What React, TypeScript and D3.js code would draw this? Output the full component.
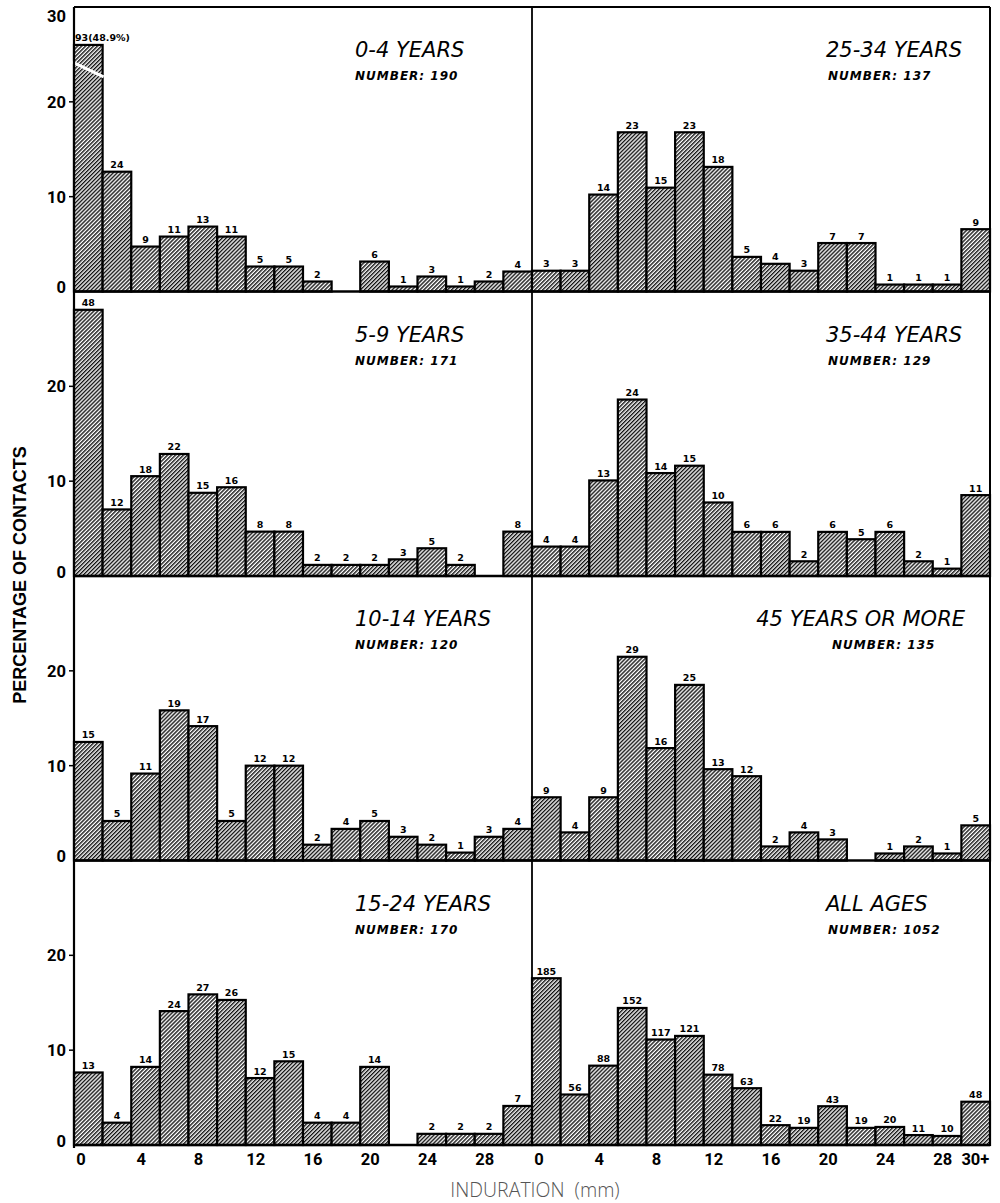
import React from "react";
import * as d3 from "d3";

// ---- DATA ----
const binStarts = [0, 2, 4, 6, 8, 10, 12, 14, 16, 18, 20, 22, 24, 26, 28, 30];
const leftTickValues = [0, 4, 8, 12, 16, 20, 24, 28];
const leftTickLabels = ["0", "4", "8", "12", "16", "20", "24", "28"];
const rightTickValues = [0, 4, 8, 12, 16, 20, 24, 28, 30];
const rightTickLabels = ["0", "4", "8", "12", "16", "20", "24", "28", "30+"];
const yTicksFirstRow = [0, 10, 20, 30];
const yTicksOtherRows = [0, 10, 20];

const panelTitles = [
  "0-4 YEARS",
  "5-9 YEARS",
  "10-14 YEARS",
  "15-24 YEARS",
  "25-34 YEARS",
  "35-44 YEARS",
  "45 YEARS OR MORE",
  "ALL AGES",
];
const panelNumbers = [190, 171, 120, 170, 137, 129, 135, 1052];

const counts0to4 = [93, 24, 9, 11, 13, 11, 5, 5, 2, 0, 6, 1, 3, 1, 2, 4];
const counts5to9 = [48, 12, 18, 22, 15, 16, 8, 8, 2, 2, 2, 3, 5, 2, 0, 8];
const counts10to14 = [15, 5, 11, 19, 17, 5, 12, 12, 2, 4, 5, 3, 2, 1, 3, 4];
const counts15to24 = [13, 4, 14, 24, 27, 26, 12, 15, 4, 4, 14, 0, 2, 2, 2, 7];
const counts25to34 = [3, 3, 14, 23, 15, 23, 18, 5, 4, 3, 7, 7, 1, 1, 1, 9];
const counts35to44 = [4, 4, 13, 24, 14, 15, 10, 6, 6, 2, 6, 5, 6, 2, 1, 11];
const counts45plus = [9, 4, 9, 29, 16, 25, 13, 12, 2, 4, 3, 0, 1, 2, 1, 5];
const countsAll = [185, 56, 88, 152, 117, 121, 78, 63, 22, 19, 43, 19, 20, 11, 10, 48];

const panelCounts = [
  counts0to4,
  counts5to9,
  counts10to14,
  counts15to24,
  counts25to34,
  counts35to44,
  counts45plus,
  countsAll,
];

// ---- LAYOUT ----
const W = 1000;
const H = 1203;
const LEFT = 74;
const MID = 532;
const RIGHT = 990;
const TOP = 7;
const ROW_H = 284.5;
const Y_MAX = 30;
const CAP = 26; // bars exceeding the panel are drawn broken at this height

const tickFont = "Roboto, 'DejaVu Sans', sans-serif";

export default function App() {
  const rows = 4;
  const panels = panelCounts.map((counts, i) => {
    const col = i < 4 ? 0 : 1;
    const row = i % 4;
    const x0 = col === 0 ? LEFT : MID;
    const x1 = col === 0 ? MID : RIGHT;
    const base = TOP + ROW_H * (row + 1);
    const x = d3.scaleLinear().domain([0, 32]).range([x0, x1]);
    const y = d3.scaleLinear().domain([0, Y_MAX]).range([base, base - ROW_H]);
    return { i, col, row, counts, x, y, x0, x1, base };
  });

  const yScales = d3.range(rows).map((r) => {
    const base = TOP + ROW_H * (r + 1);
    return d3.scaleLinear().domain([0, Y_MAX]).range([base, base - ROW_H]);
  });

  return (
    <svg width={W} height={H} viewBox={`0 0 ${W} ${H}`} style={{ display: "block", position: "absolute", left: 0, top: 0, background: "#fff" }}>
      <defs>
        <pattern id="hatch" width="2.8" height="2.8" patternUnits="userSpaceOnUse" patternTransform="rotate(45)">
          <rect width="2.8" height="2.8" fill="#fff" />
          <line x1="0.7" y1="0" x2="0.7" y2="2.8" stroke="#111" strokeWidth="1.4" />
        </pattern>
      </defs>
      <rect width={W} height={H} fill="#fff" />

      {/* bars */}
      {panels.map((p) => {
        const n = panelNumbers[p.i];
        return (
          <g key={"bars" + p.i}>
            {p.counts.map((c, k) => {
              if (c === 0) return null;
              const pct = (c / n) * 100;
              const shown = pct > Y_MAX ? CAP : pct;
              const bx0 = p.x(binStarts[k]);
              const bx1 = p.x(binStarts[k] + 2);
              const yt = p.y(shown);
              const broken = pct > Y_MAX;
              return (
                <g key={k}>
                  <rect
                    x={bx0}
                    y={yt}
                    width={bx1 - bx0}
                    height={p.base - yt}
                    fill="url(#hatch)"
                    stroke="#000"
                    strokeWidth={2.2}
                  />
                  {broken && (
                    <line
                      x1={bx0 - 2}
                      y1={yt + 17}
                      x2={bx1 + 1}
                      y2={yt + 32}
                      stroke="#fff"
                      strokeWidth={3}
                    />
                  )}
                  <text
                    x={broken ? bx0 + 1 : (bx0 + bx1) / 2}
                    y={yt - 3.5}
                    textAnchor={broken ? "start" : "middle"}
                    fontFamily="'DejaVu Sans', sans-serif"
                    fontWeight="bold"
                    fontSize={broken ? 9.5 : 9.5}
                    fill="#000"
                  >
                    {broken ? `${c}(${pct.toFixed(1)}%)` : c}
                  </text>
                </g>
              );
            })}
          </g>
        );
      })}

      {/* frame */}
      <g stroke="#000" fill="none">
        <line x1={LEFT} y1={TOP} x2={RIGHT} y2={TOP} strokeWidth={2} />
        <line x1={LEFT} y1={TOP} x2={LEFT} y2={TOP + ROW_H * rows + 3} strokeWidth={2.2} />
        <line x1={MID} y1={TOP} x2={MID} y2={TOP + ROW_H * rows} strokeWidth={1.8} />
        <line x1={RIGHT} y1={TOP} x2={RIGHT} y2={TOP + ROW_H * rows} strokeWidth={2} />
        {yScales.map((ys, r) => (
          <line key={r} x1={LEFT} y1={ys(0)} x2={RIGHT} y2={ys(0)} strokeWidth={2.4} />
        ))}
      </g>

      {/* y ticks */}
      {yScales.map((ys, r) => {
        const ticks = r === 0 ? yTicksFirstRow : yTicksOtherRows;
        return (
          <g key={"yt" + r}>
            {ticks.map((t) => (
              <g key={t}>
                {t !== 0 && t !== 30 && (
                  <line x1={LEFT - 5} y1={ys(t)} x2={LEFT} y2={ys(t)} stroke="#000" strokeWidth={1.5} />
                )}
                <text
                  x={LEFT - 8}
                  y={ys(t) - (t === 0 ? 4 : 0) + (t === 30 ? 9 : 0)}
                  dy="0.36em"
                  textAnchor="end"
                  fontFamily={tickFont}
                  fontWeight="bold"
                  fontSize={16.5}
                  fill="#000"
                >
                  {t}
                </text>
              </g>
            ))}
          </g>
        );
      })}

      {/* x ticks */}
      {panels
        .filter((p) => p.row === 3)
        .map((p) => {
          const vals = p.col === 0 ? leftTickValues : rightTickValues;
          const labs = p.col === 0 ? leftTickLabels : rightTickLabels;
          return (
            <g key={"xt" + p.i}>
              {vals.map((v, j) => (
                <text
                  key={j}
                  x={p.x(v) + (labs[j] === "30+" ? 14 : v === 0 ? 7 : 10)}
                  y={p.base + 14}
                  dy="0.36em"
                  textAnchor="middle"
                  fontFamily={tickFont}
                  fontWeight="bold"
                  fontSize={16.5}
                  fill="#000"
                >
                  {labs[j]}
                </text>
              ))}
            </g>
          );
        })}

      {/* panel titles */}
      {panels.map((p) => {
        const long = panelTitles[p.i].length > 12;
        const tx = p.col === 0 ? p.x0 + 281 : long ? p.x1 - 25 : p.x0 + 294;
        const anchor = long ? "end" : "start";
        const ty = p.y(Y_MAX) + 50;
        const nx = p.col === 0 ? p.x0 + 281 : p.x0 + (long ? 300 : 296);
        return (
          <g key={"title" + p.i}>
            <text
              x={tx}
              y={ty}
              textAnchor={anchor}
              fontFamily="'DejaVu Sans', sans-serif"
              fontStyle="italic"
              fontSize={21}
              fill="#000"
            >
              {panelTitles[p.i]}
            </text>
            <text
              x={nx}
              y={ty + 23}
              fontFamily="'DejaVu Sans', sans-serif"
              fontStyle="italic"
              fontWeight="bold"
              fontSize={12}
              letterSpacing={1}
              fill="#000"
            >
              {`NUMBER:  ${panelNumbers[p.i]}`}
            </text>
          </g>
        );
      })}

      {/* axis titles */}
      <text
        transform={`translate(20, 575) rotate(-90)`}
        textAnchor="middle"
        dy="0.36em"
        fontFamily="'Liberation Sans', Arial, sans-serif"
        fontWeight="bold"
        fontSize={18}
        fill="#000"
      >
        PERCENTAGE OF CONTACTS
      </text>
      <text
        x={535}
        y={1190}
        dy="0.36em"
        textAnchor="middle"
        fontFamily="'Open Sans', 'Noto Sans', sans-serif"
        fontWeight={300}
        fontSize={19.5}
        fill="#555"
        style={{ whiteSpace: "pre" }}
      >
        {"INDURATION  (mm)"}
      </text>
    </svg>
  );
}
